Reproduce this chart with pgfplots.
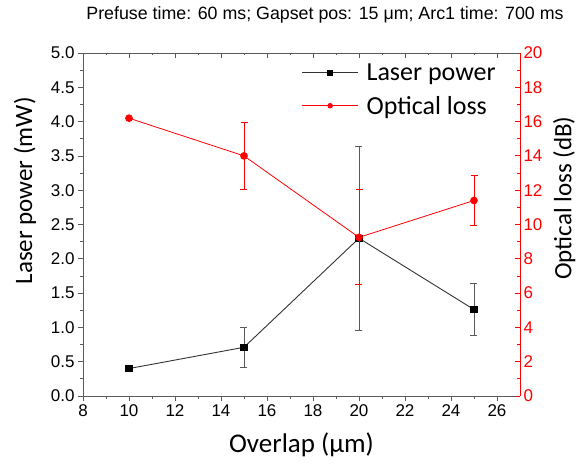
\documentclass[border=0pt]{standalone}
\usepackage{pgfplots}
\pgfplotsset{compat=1.18}
\usepackage{fontspec}
\setmainfont{Liberation Sans}
\newfontfamily\calfont{Carlito}
\definecolor{axgray}{RGB}{90,90,90}
\begin{document}
\begin{tikzpicture}
\pgfplotsset{
  every axis/.append style={
    scale only axis, width=437pt, height=343pt,
    xmin=8, xmax=27,
    /pgf/number format/assume math mode=true,
    tick label style={font=\fontsize{17}{19}\selectfont},
    major tick length=5pt, minor tick length=2.5pt,
  },
  myleg/.style={
    legend image code/.code={\draw[mark repeat=2,mark phase=2,##1, mark size=2.3pt] plot coordinates {(0pt,0pt) (28pt,0pt) (56pt,0pt)};}
  }
}
\begin{axis}[
  at={(0,0)}, anchor=south west,
  axis x line*=bottom, axis y line*=left,
  tick align=outside,
  ymin=0, ymax=5,
  xtick={8,10,...,26}, minor x tick num=1,
  ytick={0,0.5,...,5.0}, minor y tick num=1,
  yticklabel style={/pgf/number format/.cd, fixed, fixed zerofill, precision=1},
  axis line style={axgray, line width=0.8pt},
  tick style={axgray, line width=0.8pt},
  xlabel={\calfont\fontsize{27}{29}\selectfont Overlap (μm)},
  ylabel={\calfont\fontsize{25}{27}\selectfont Laser power (mW)},
  xlabel style={at={(axis description cs:0.5,-0.143)}, anchor=center},
  ylabel style={at={(axis description cs:-0.133,0.598)}, anchor=center, rotate=0},
  clip=false,
]
\addplot[color=black!80, line width=0.9pt, mark=square*, mark size=3.2pt, mark options={fill=black, draw=black},
  error bars/.cd, y dir=both, y explicit,
  error bar style={black!65, line width=0.9pt},
  error mark options={rotate=90, mark size=3.5pt, black!65, line width=0.9pt}]
coordinates {
 (10,0.40) +- (0,0)
 (15,0.71) +- (0,0.29)
 (20,2.30) +- (0,1.34)
 (25,1.26) +- (0,0.38)
};
\end{axis}
\begin{axis}[
  at={(0,0)}, anchor=south west,
  myleg,
  axis x line*=top, axis y line*=right,
  tick align=inside,
  ymin=0, ymax=20,
  xtick={8,10,...,26}, minor x tick num=1, xticklabels={},
  ytick={0,2,...,20}, minor y tick num=1,
  x axis line style={axgray, line width=0.8pt},
  x tick style={axgray, line width=0.8pt},
  y axis line style={red, line width=0.8pt},
  y tick style={red, line width=0.8pt},
  yticklabel style={red},
  ylabel={\calfont\fontsize{25}{27}\selectfont Optical loss (dB)},
  ylabel style={at={(axis description cs:1.101,0.577)}, anchor=center, rotate=0},
  legend style={at={(axis description cs:0.50,0.975)}, anchor=north west, draw=none, fill=none,
    font=\calfont\fontsize{26}{28}\selectfont, row sep=10pt, inner sep=0pt,
    /tikz/every odd column/.append style={column sep=6pt}},
  legend cell align=left,
  clip=false,
]
\addlegendimage{color=black!80, line width=0.9pt, mark=square*, mark options={fill=black, draw=black}}
\addlegendentry{Laser power}
\addplot[color=red, line width=0.8pt, mark=*, mark size=3.4pt, mark options={fill=red, draw=red},
  error bars/.cd, y dir=both, y explicit,
  error bar style={red, line width=0.8pt},
  error mark options={rotate=90, mark size=3.5pt, red, line width=0.8pt}]
coordinates {
 (10,16.2) +- (0,0)
 (15,14.0) +- (0,1.97)
 (20,9.25) +- (0,2.77)
 (25,11.4) +- (0,1.47)
};
\addlegendentry{Optical loss}
\end{axis}
\node[anchor=center, font=\fontsize{17.8}{20}\selectfont] at (242pt,381pt) {Prefuse time: 60 ms; Gapset pos: 15 μm; Arc1 time: 700 ms};
\pgfresetboundingbox
\path[use as bounding box] (-83pt,-68pt) rectangle (496pt,396pt);
\end{tikzpicture}
\end{document}
